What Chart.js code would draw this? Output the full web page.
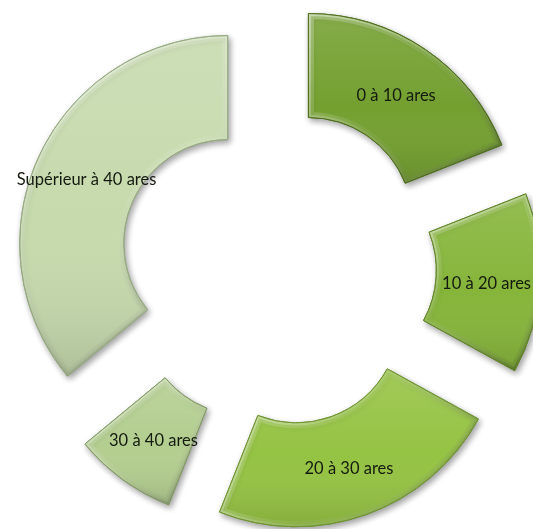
<!DOCTYPE html>
<html>
<head>
<meta charset="utf-8">
<script src="https://cdn.jsdelivr.net/npm/chart.js@4/dist/chart.umd.min.js"></script>
<style>
  html, body { margin: 0; padding: 0; background: #ffffff; }
  #wrap { width: 533px; height: 529px; position: relative; }
</style>
</head>
<body>
<div id="wrap"><canvas id="c"></canvas></div>
<script>
// Surface classes (ares) and their share of plots
const labels = ['0 à 10 ares', '10 à 20 ares', '20 à 30 ares', '30 à 40 ares', 'Supérieur à 40 ares'];
const values = [19, 14, 23, 8, 36];

const fillColors = ['#74a030', '#86b53a', '#95c343', '#b3ce8f', '#c6daad'];
const edgeColors = ['#4f701b', '#628728', '#6e952f', '#849c66', '#94aa7e'];

// Pushes every slice outward along its bisector
const explodePlugin = {
  id: 'explode',
  afterDatasetUpdate(chart, args, opts) {
    args.meta.data.forEach(arc => {
      const mid = (arc.startAngle + arc.endAngle) / 2;
      arc.x += Math.cos(mid) * opts.distance;
      arc.y += Math.sin(mid) * opts.distance;
    });
  }
};

function arcPath(ctx, a) {
  ctx.beginPath();
  ctx.arc(a.x, a.y, a.outerRadius, a.startAngle, a.endAngle);
  ctx.arc(a.x, a.y, a.innerRadius, a.endAngle, a.startAngle, true);
  ctx.closePath();
}

function arcBox(a) {
  let x0 = Infinity, y0 = Infinity, x1 = -Infinity, y1 = -Infinity;
  for (let i = 0; i <= 40; i++) {
    const t = a.startAngle + (a.endAngle - a.startAngle) * i / 40;
    for (const r of [a.innerRadius, a.outerRadius]) {
      const px = a.x + Math.cos(t) * r, py = a.y + Math.sin(t) * r;
      x0 = Math.min(x0, px); x1 = Math.max(x1, px);
      y0 = Math.min(y0, py); y1 = Math.max(y1, py);
    }
  }
  return { x0, y0, x1, y1 };
}

// Soft drop shadow under the slices, then a bevelled, shaded surface on top
const bevelPlugin = {
  id: 'bevel',
  beforeDatasetDraw(chart) {
    const ctx = chart.ctx;
    ctx.save();
    ctx.shadowColor = 'rgba(0,0,0,0.38)';
    ctx.shadowBlur = 6;
    ctx.shadowOffsetX = 2;
    ctx.shadowOffsetY = 3;
  },
  afterDatasetDraw(chart, args) {
    const ctx = chart.ctx;
    ctx.restore();
    args.meta.data.forEach((a, i) => {
      const b = arcBox(a);
      ctx.save();
      arcPath(ctx, a);
      ctx.clip();

      // vertical shading: lighter top, deeper bottom
      const v = ctx.createLinearGradient(0, b.y0, 0, b.y1);
      v.addColorStop(0, 'rgba(255,255,255,0.12)');
      v.addColorStop(0.55, 'rgba(255,255,255,0)');
      v.addColorStop(1, 'rgba(0,0,0,0.12)');
      ctx.fillStyle = v;
      ctx.fillRect(b.x0 - 2, b.y0 - 2, b.x1 - b.x0 + 4, b.y1 - b.y0 + 4);

      // bevel band along the edges: lit from the upper left
      const d = ctx.createLinearGradient(b.x0, b.y0, b.x1, b.y1);
      d.addColorStop(0, 'rgba(255,255,255,0.6)');
      d.addColorStop(0.5, 'rgba(255,255,255,0.12)');
      d.addColorStop(1, 'rgba(0,0,0,0.28)');
      ctx.strokeStyle = d;
      ctx.lineJoin = 'round';
      arcPath(ctx, a);
      ctx.lineWidth = 11;
      ctx.globalAlpha = 0.45;
      ctx.stroke();
      ctx.lineWidth = 5;
      ctx.globalAlpha = 0.7;
      ctx.stroke();
      ctx.restore();

      // crisp outline
      ctx.save();
      arcPath(ctx, a);
      ctx.lineWidth = 1;
      ctx.strokeStyle = edgeColors[i];
      ctx.stroke();
      ctx.restore();
    });
  }
};

// Category names drawn in the middle of each slice
const sliceLabelPlugin = {
  id: 'sliceLabels',
  afterDatasetsDraw(chart) {
    const ctx = chart.ctx;
    const meta = chart.getDatasetMeta(0);
    ctx.save();
    ctx.font = '16.5px Lato, "Open Sans", sans-serif';
    ctx.fillStyle = '#151a10';
    ctx.textAlign = 'center';
    ctx.textBaseline = 'middle';
    meta.data.forEach((arc, i) => {
      const p = arc.getCenterPoint();
      const w = ctx.measureText(labels[i]).width;
      let x = p.x;
      x = Math.min(x, chart.width - 2 - w / 2);
      x = Math.max(x, 9 + w / 2);
      ctx.fillText(labels[i], x, p.y + 3);
    });
    ctx.restore();
  }
};

new Chart(document.getElementById('c'), {
  type: 'doughnut',
  data: {
    labels: labels,
    datasets: [{
      data: values,
      backgroundColor: fillColors,
      borderColor: edgeColors,
      borderWidth: 1,
      clip: false
    }]
  },
  options: {
    responsive: true,
    maintainAspectRatio: false,
    animation: false,
    events: [],
    cutout: '50%',
    radius: 208,
    rotation: 0,
    layout: { padding: { left: 22, top: 5, right: 0, bottom: 0 } },
    plugins: {
      legend: { display: false },
      tooltip: { enabled: false },
      title: { display: false },
      explode: { distance: 55 }
    }
  },
  plugins: [explodePlugin, bevelPlugin, sliceLabelPlugin]
});
</script>
</body>
</html>
